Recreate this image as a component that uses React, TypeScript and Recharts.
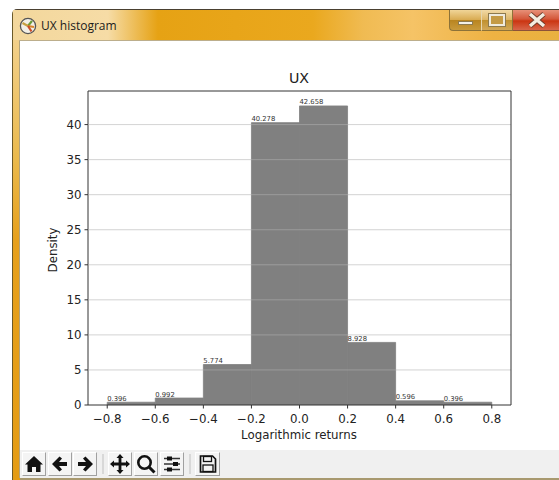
import React from "react";
import { ComposedChart, Bar, XAxis, YAxis, ReferenceLine, LabelList } from "recharts";

const binCenters = [-0.7, -0.5, -0.3, -0.1, 0.1, 0.3, 0.5, 0.7];
const densities = [0.396, 0.992, 5.774, 40.278, 42.658, 8.928, 0.596, 0.396];
const xTicks = [-0.8, -0.6, -0.4, -0.2, 0, 0.2, 0.4, 0.6, 0.8];
const yTicks = [0, 5, 10, 15, 20, 25, 30, 35, 40];
const xDomain = [-0.88, 0.88];
const yDomain = [0, 44.79];
const chartTitle = "UX";
const windowTitle = "UX histogram";
const xLabel = "Logarithmic returns";
const yLabel = "Density";

const rows = binCenters.map((x, i) => ({ x, density: densities[i] }));
const font = "'DejaVu Sans', sans-serif";
const ink = "#222";

const fmtX = (v: number) => {
  const s = Math.abs(v).toFixed(1);
  return v < 0 ? "\u2212" + s : s;
};

const BinLabel = (p: any) => (
  <text x={p.x} y={p.y - 1.5} fontSize={6.8} fontFamily={font} fill="#333" textAnchor="start" style={{ opacity: 0.99 }}>
    {p.value}
  </text>
);

const Btn = ({ x, w = 24, children }: any) => (
  <div style={{
    position: "absolute", left: x, top: 452, width: w, height: 24, boxSizing: "border-box",
    background: "#f4f4f4", borderTop: "1px solid #fff", borderLeft: "1px solid #fff",
    borderRight: "1px solid #a0a0a0", borderBottom: "1px solid #a0a0a0",
  }}>
    <svg width={w - 2} height={22} viewBox="0 0 22 22" style={{ display: "block" }}>{children}</svg>
  </div>
);

const Sep = ({ x }: any) => (
  <div style={{ position: "absolute", left: x, top: 454, width: 2, height: 20, background: "#d8d8d8" }} />
);

const Toolbar = () => (
  <>
    <div style={{ position: "absolute", left: 20, top: 450, width: 539, height: 28, background: "#f0f0f0" }} />
    <Btn x={22}>
      <path d="M11 3 L20 11.5 L17.5 11.5 L17.5 19 L13 19 L13 14 L9 14 L9 19 L4.5 19 L4.5 11.5 L2 11.5 Z" fill="#111" />
    </Btn>
    <Btn x={48}>
      <path d="M18 9 H10 L13 5.5 L10.5 3.5 L3 11 L10.5 18.5 L13 16.5 L10 13 H18 Z" fill="#111" />
    </Btn>
    <Btn x={73}>
      <path d="M4 9 H12 L9 5.5 L11.5 3.5 L19 11 L11.5 18.5 L9 16.5 L12 13 H4 Z" fill="#111" />
    </Btn>
    <Sep x={102} />
    <Btn x={108}>
      <path d="M11 1 L14.5 5 H12.4 V9.6 H17 V7.5 L21 11 L17 14.5 V12.4 H12.4 V17 H14.5 L11 21 L7.5 17 H9.6 V12.4 H5 V14.5 L1 11 L5 7.5 V9.6 H9.6 V5 H7.5 Z" fill="#111" />
    </Btn>
    <Btn x={134}>
      <circle cx="9.5" cy="9.5" r="6.2" fill="none" stroke="#111" strokeWidth="2.6" />
      <path d="M14 14 L19.5 19.5" stroke="#111" strokeWidth="3" />
    </Btn>
    <Btn x={160}>
      <path d="M3 5.5 H19 M3 11 H19 M3 16.5 H19" stroke="#333" strokeWidth="1.4" />
      <rect x="6" y="3.5" width="5" height="4" fill="#111" />
      <rect x="12" y="9" width="5" height="4" fill="#111" />
      <rect x="6" y="14.5" width="5" height="4" fill="#111" />
    </Btn>
    <Sep x={189} />
    <Btn x={195} w={25}>
      <path d="M4 3 H16 L19 6 V19 H4 Z" fill="#f4f4f4" stroke="#111" strokeWidth="1.7" />
      <rect x="7" y="3.5" width="8" height="5" fill="none" stroke="#111" strokeWidth="1.3" />
      <rect x="6.5" y="12" width="10" height="6.5" fill="none" stroke="#111" strokeWidth="1.3" />
    </Btn>
  </>
);

const WindowFrame = () => (
  <>
    <div style={{
      position: "absolute", left: 12, top: 9, width: 547, height: 471, boxSizing: "border-box",
      borderLeft: "1px solid #6b5a2a", borderTop: "1px solid #4a4030", borderTopLeftRadius: 5,
      background: "linear-gradient(90deg, #e8a51e 0px, #e9a216 8px, #e9a216 100%)",
    }} />
    <div style={{
      position: "absolute", left: 13, top: 10, width: 546, height: 31,
      background: "linear-gradient(90deg, #f3d79c 0px, #f6dca6 95px, #ecb94e 125px, #e6a214 145px, #eaa81e 300px, #f0bb52 350px, #f5c366 400px, #eeb243 480px, #e9b13f 100%)",
    }} />
    <div style={{ position: "absolute", left: 13, top: 40, width: 7, height: 440, background: "linear-gradient(180deg, #f2d08a 0, #eab94c 120px, #e6a01c 200px, #e49c14 100%)" }} />
    <div style={{ position: "absolute", left: 19, top: 40, width: 540, height: 1, background: "#bcae8c" }} />
    <div style={{ position: "absolute", left: 19, top: 41, width: 1, height: 437, background: "#b0a27c" }} />
    <div style={{ position: "absolute", left: 20, top: 41, width: 539, height: 409, background: "#fff" }} />
    <div style={{ position: "absolute", left: 20, top: 478, width: 539, height: 2, background: "#a8996f" }} />
    <svg width={18} height={18} style={{ position: "absolute", left: 19, top: 17 }} viewBox="0 0 18 18">
      <circle cx="9" cy="9" r="7.6" fill="#f2efe6" stroke="#555" strokeWidth="1.3" />
      <path d="M9 9 L13 3.8" stroke="#6a9a3a" strokeWidth="2.2" />
      <path d="M9 9 L3.5 6" stroke="#c8a040" strokeWidth="2.2" />
      <path d="M9 9 L15 10" stroke="#d8842a" strokeWidth="2.2" />
      <path d="M9 9 L12.5 14.5" stroke="#c94f2a" strokeWidth="2.2" />
    </svg>
    <div style={{ position: "absolute", left: 41, top: 17, fontFamily: "'Open Sans', sans-serif", fontSize: 12, lineHeight: "18px", color: "#1c1c1c", whiteSpace: "nowrap" }}>
      {windowTitle}
    </div>
    <div style={{
      position: "absolute", left: 449, top: 10, width: 33, height: 21, boxSizing: "border-box",
      background: "linear-gradient(180deg, #f0d598 0, #d8aa50 50%, #b98520 52%, #c89a3c 100%)",
      borderLeft: "1px solid #8d7238", borderBottom: "1px solid #8d7238", borderRight: "1px solid #e6d6ae", borderBottomLeftRadius: 4,
    }}>
      <div style={{ position: "absolute", left: 8, top: 11, width: 15, height: 4, background: "#f3f0e6", border: "1px solid #8d7a4e", boxSizing: "border-box" }} />
    </div>
    <div style={{
      position: "absolute", left: 482, top: 10, width: 31, height: 21, boxSizing: "border-box",
      background: "linear-gradient(180deg, #f2daa6 0, #dcb464 50%, #c0902e 52%, #d2a858 100%)",
      borderRight: "1px solid #8d7238", borderBottom: "1px solid #8d7238",
    }}>
      <div style={{ position: "absolute", left: 7, top: 4, width: 16, height: 12, background: "#c49a44", border: "2px solid #efeadb", outline: "1px solid #8d7a4e", boxSizing: "border-box" }} />
    </div>
    <div style={{
      position: "absolute", left: 513, top: 10, width: 46, height: 21, boxSizing: "border-box",
      background: "linear-gradient(180deg, #e79078 0, #d4573a 45%, #cb3512 55%, #d8664a 100%)",
      borderBottom: "1px solid #8d5238",
    }}>
      <svg width={46} height={20} viewBox="0 0 46 20" style={{ display: "block" }}>
        <path d="M17 4 L31 16 M31 4 L17 16" stroke="#6d3a2a" strokeWidth="5" />
        <path d="M17 4 L31 16 M31 4 L17 16" stroke="#f3ece0" strokeWidth="3.4" />
      </svg>
    </div>
  </>
);

export default function App() {
  return (
    <div style={{ position: "fixed", left: 0, top: 0, width: 559, height: 480, background: "#fff", overflow: "hidden" }}>
      <WindowFrame />
      <div style={{ position: "absolute", left: 20, top: 41 }}>
        <ComposedChart
          width={539}
          height={409}
          data={rows}
          barCategoryGap={0}
          margin={{ top: 50, right: 48, bottom: 0, left: 0 }}
        >
          <XAxis
            dataKey="x"
            type="number"
            domain={xDomain}
            ticks={xTicks}
            tickFormatter={fmtX}
            height={45}
            tickSize={3.5}
            tickMargin={6}
            interval={0}
            allowDataOverflow
            tick={{ fontSize: 11.8, fontFamily: font, fill: ink }}
            axisLine={{ stroke: "#333", strokeWidth: 1 }}
            tickLine={{ stroke: "#333", strokeWidth: 1 }}
          />
          <YAxis
            type="number"
            domain={yDomain}
            ticks={yTicks}
            width={68}
            tickSize={3.5}
            tickMargin={3}
            interval={0}
            allowDataOverflow
            tick={{ fontSize: 11.8, fontFamily: font, fill: ink }}
            axisLine={{ stroke: "#333", strokeWidth: 1 }}
            tickLine={{ stroke: "#333", strokeWidth: 1 }}
          />
          <Bar dataKey="density" fill="#808080" stroke="#808080" strokeWidth={0.8} barSize={48.05} isAnimationActive={false}>
            <LabelList dataKey="density" content={BinLabel} />
          </Bar>
        </ComposedChart>
      </div>
      <div style={{ position: "absolute", left: 20, top: 41, pointerEvents: "none" }}>
        <ComposedChart
          width={539}
          height={409}
          data={rows}
          margin={{ top: 50, right: 48, bottom: 45, left: 68 }}
        >
          <XAxis dataKey="x" type="number" domain={xDomain} hide allowDataOverflow />
          <YAxis type="number" domain={yDomain} hide allowDataOverflow />
          {yTicks.slice(1).map((t) => (
            <ReferenceLine key={t} y={t} stroke="#b1b1b1" strokeOpacity={0.56} strokeWidth={1} />
          ))}
          <ReferenceLine x={xDomain[1]} stroke="#333" strokeWidth={1} />
          <ReferenceLine y={yDomain[1]} stroke="#333" strokeWidth={1} />
        </ComposedChart>
      </div>
      <div style={{ position: "absolute", left: 199, width: 200, top: 70, textAlign: "center", fontFamily: font, fontSize: 14.2, lineHeight: "16px", color: ink }}>
        {chartTitle}
      </div>
      <div style={{ position: "absolute", left: 199, width: 200, top: 428, textAlign: "center", fontFamily: font, fontSize: 11.8, lineHeight: "14px", color: ink }}>
        {xLabel}
      </div>
      <div style={{ position: "absolute", left: 3, width: 100, top: 243, textAlign: "center", fontFamily: font, fontSize: 11.8, lineHeight: "14px", color: ink, transform: "rotate(-90deg)" }}>
        {yLabel}
      </div>
      <Toolbar />
    </div>
  );
}
